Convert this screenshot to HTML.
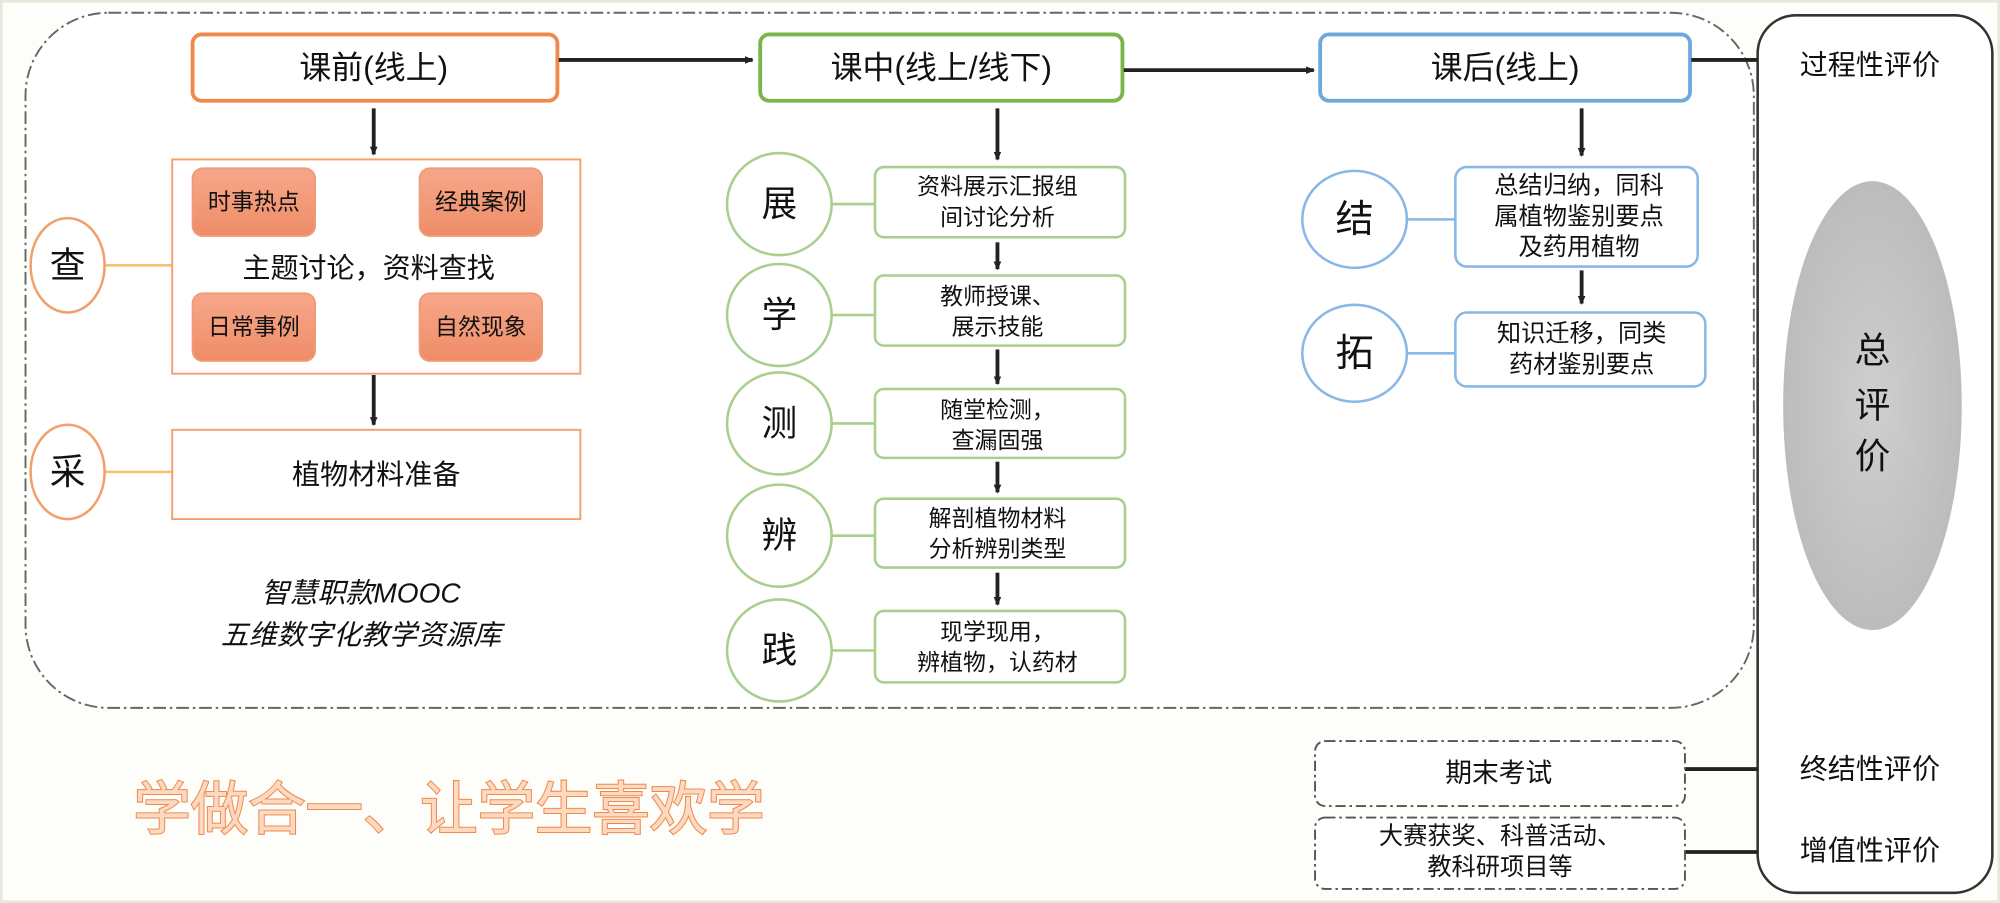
<!DOCTYPE html>
<html><head><meta charset="utf-8"><style>
html,body{margin:0;padding:0;background:#fdfdfa;}
svg{display:block}
text{font-family:"Liberation Sans","Noto Sans CJK SC",sans-serif;fill:#111;text-anchor:middle;dominant-baseline:central}
</style></head><body>
<svg width="2000" height="903" viewBox="0 0 1568 708" preserveAspectRatio="none" xmlns="http://www.w3.org/2000/svg">
<defs>
<marker id="a" markerWidth="8" markerHeight="8" refX="6" refY="4" orient="auto" markerUnits="userSpaceOnUse"><path d="M0,1 L7,4 L0,7 z" fill="#222"/></marker>
<linearGradient id="pk" x1="0" y1="0" x2="0" y2="1"><stop offset="0" stop-color="#f6a88a"/><stop offset="1" stop-color="#ef8c68"/></linearGradient>
<radialGradient id="el" cx="0.5" cy="0.5" r="0.5"><stop offset="0" stop-color="#cfcfcf"/><stop offset="1" stop-color="#bcbcbc"/></radialGradient>
</defs>
<rect x="0" y="0" width="1568" height="708" fill="#fdfdfa"/>
<rect x="1" y="1" width="1566" height="706" fill="none" stroke="#e8e6d8" stroke-width="2"/>
<rect x="20" y="10" width="1355" height="545" rx="65" fill="#fff" stroke="#666" stroke-width="1.5" stroke-dasharray="10,3,2,3"/>
<rect x="1378" y="12" width="184" height="688" rx="30" fill="#fff" stroke="#333" stroke-width="2"/>
<ellipse cx="1468" cy="318" rx="70" ry="176" fill="url(#el)"/>
<text x="1468" y="275" font-size="28">总</text>
<text x="1468" y="318" font-size="28">评</text>
<text x="1468" y="358" font-size="28">价</text>
<text x="1466" y="51" font-size="22">过程性评价</text>
<text x="1466" y="603" font-size="22">终结性评价</text>
<text x="1466" y="667" font-size="22">增值性评价</text>
<rect x="151" y="27" width="286" height="52" rx="7" fill="#fff" stroke="#f08a4b" stroke-width="3"/>
<text x="293" y="53" font-size="25">课前(线上)</text>
<rect x="596" y="27" width="284" height="52" rx="7" fill="#fff" stroke="#79b54a" stroke-width="3"/>
<text x="738" y="53" font-size="25">课中(线上/线下)</text>
<rect x="1035" y="27" width="290" height="52" rx="7" fill="#fff" stroke="#6fa8dc" stroke-width="3"/>
<text x="1180" y="53" font-size="25">课后(线上)</text>
<g stroke="#222" stroke-width="3" fill="none">
<line x1="438" y1="47" x2="590" y2="47" marker-end="url(#a)"/>
<line x1="881" y1="55" x2="1030" y2="55" marker-end="url(#a)"/>
<line x1="1326" y1="47" x2="1378" y2="47"/>
<line x1="293" y1="85" x2="293" y2="121" marker-end="url(#a)"/>
<line x1="293" y1="294" x2="293" y2="333" marker-end="url(#a)"/>
<line x1="782" y1="85" x2="782" y2="125" marker-end="url(#a)"/>
<line x1="782" y1="190" x2="782" y2="211" marker-end="url(#a)"/>
<line x1="782" y1="274" x2="782" y2="301" marker-end="url(#a)"/>
<line x1="782" y1="362" x2="782" y2="386" marker-end="url(#a)"/>
<line x1="782" y1="449" x2="782" y2="474" marker-end="url(#a)"/>
<line x1="1240" y1="85" x2="1240" y2="122" marker-end="url(#a)"/>
<line x1="1240" y1="212" x2="1240" y2="238" marker-end="url(#a)"/>
<line x1="1321" y1="603" x2="1378" y2="603"/>
<line x1="1321" y1="668" x2="1378" y2="668"/>
</g>
<line x1="82" y1="208" x2="135" y2="208" stroke="#f5c36a" stroke-width="2"/>
<line x1="82" y1="370" x2="135" y2="370" stroke="#f5c36a" stroke-width="2"/>
<ellipse cx="53" cy="208" rx="29" ry="37" fill="#fff" stroke="#f2a06b" stroke-width="2"/>
<text x="53" y="208" font-size="28">查</text>
<ellipse cx="53" cy="370" rx="29" ry="37" fill="#fff" stroke="#f2a06b" stroke-width="2"/>
<text x="53" y="370" font-size="28">采</text>
<rect x="135" y="125" width="320" height="168" fill="#fff" stroke="#f2a06b" stroke-width="1.5"/>
<g stroke="#f09a76" stroke-width="1.5" fill="url(#pk)">
<rect x="151" y="132" width="96" height="53" rx="8"/>
<rect x="329" y="132" width="96" height="53" rx="8"/>
<rect x="151" y="230" width="96" height="53" rx="8"/>
<rect x="329" y="230" width="96" height="53" rx="8"/>
</g>
<text x="199" y="158" font-size="18">时事热点</text>
<text x="377" y="158" font-size="18">经典案例</text>
<text x="199" y="256" font-size="18">日常事例</text>
<text x="377" y="256" font-size="18">自然现象</text>
<text x="289" y="210" font-size="22">主题讨论，资料查找</text>
<rect x="135" y="337" width="320" height="70" fill="#fff" stroke="#f2a06b" stroke-width="1.5"/>
<text x="295" y="372" font-size="22">植物材料准备</text>
<text x="283" y="465" font-size="22" font-style="italic">智慧职款MOOC</text>
<text x="283" y="498" font-size="22" font-style="italic">五维数字化教学资源库</text>
<g stroke="#a9cf8c" stroke-width="2">
<line x1="652" y1="160" x2="686" y2="160"/><line x1="652" y1="247" x2="686" y2="247"/>
<line x1="652" y1="332" x2="686" y2="332"/><line x1="652" y1="420" x2="686" y2="420"/>
<line x1="652" y1="510" x2="686" y2="510"/>
</g>
<g fill="#fff" stroke="#a9cf8c" stroke-width="2">
<ellipse cx="611" cy="160" rx="41" ry="40"/><ellipse cx="611" cy="247" rx="41" ry="40"/>
<ellipse cx="611" cy="332" rx="41" ry="40"/><ellipse cx="611" cy="420" rx="41" ry="40"/>
<ellipse cx="611" cy="510" rx="41" ry="40"/>
<rect x="686" y="131" width="196" height="55" rx="7"/><rect x="686" y="216" width="196" height="55" rx="7"/>
<rect x="686" y="305" width="196" height="54" rx="7"/><rect x="686" y="391" width="196" height="54" rx="7"/>
<rect x="686" y="479" width="196" height="56" rx="7"/>
</g>
<text x="611" y="160" font-size="28">展</text><text x="611" y="247" font-size="28">学</text>
<text x="611" y="332" font-size="28">测</text><text x="611" y="420" font-size="28">辨</text>
<text x="611" y="510" font-size="28">践</text>
<g font-size="18">
<text x="782" y="146">资料展示汇报组</text><text x="782" y="170">间讨论分析</text>
<text x="782" y="232">教师授课、</text><text x="782" y="256">展示技能</text>
<text x="782" y="321">随堂检测，</text><text x="782" y="345">查漏固强</text>
<text x="782" y="406">解剖植物材料</text><text x="782" y="430">分析辨别类型</text>
<text x="782" y="495">现学现用，</text><text x="782" y="519">辨植物，认药材</text>
</g>
<g stroke="#8ab8e6" stroke-width="2">
<line x1="1103" y1="172" x2="1141" y2="172"/><line x1="1103" y1="277" x2="1141" y2="277"/>
</g>
<g fill="#fff" stroke="#8ab8e6" stroke-width="2">
<ellipse cx="1062" cy="172" rx="41" ry="38"/><ellipse cx="1062" cy="277" rx="41" ry="38"/>
<rect x="1141" y="131" width="190" height="78" rx="9"/><rect x="1141" y="245" width="196" height="58" rx="9"/>
</g>
<text x="1062" y="172" font-size="30">结</text><text x="1062" y="277" font-size="30">拓</text>
<g font-size="19">
<text x="1238" y="146">总结归纳，同科</text><text x="1238" y="170">属植物鉴别要点</text><text x="1238" y="194">及药用植物</text>
<text x="1240" y="262">知识迁移，同类</text><text x="1240" y="286">药材鉴别要点</text>
</g>
<g fill="#fff" stroke="#555" stroke-width="1.5" stroke-dasharray="8,3,2,3">
<rect x="1031" y="581" width="290" height="51" rx="8"/>
<rect x="1031" y="641" width="290" height="56" rx="8"/>
</g>
<text x="1175" y="606" font-size="21">期末考试</text>
<text x="1176" y="656" font-size="19">大赛获奖、科普活动、</text>
<text x="1176" y="680" font-size="19">教科研项目等</text>
<text x="352" y="635" font-size="45" style="fill:#fcd9c0;stroke:#ef8a4e;stroke-width:1.6;paint-order:stroke">学做合一、让学生喜欢学</text>
</svg>
</body></html>
